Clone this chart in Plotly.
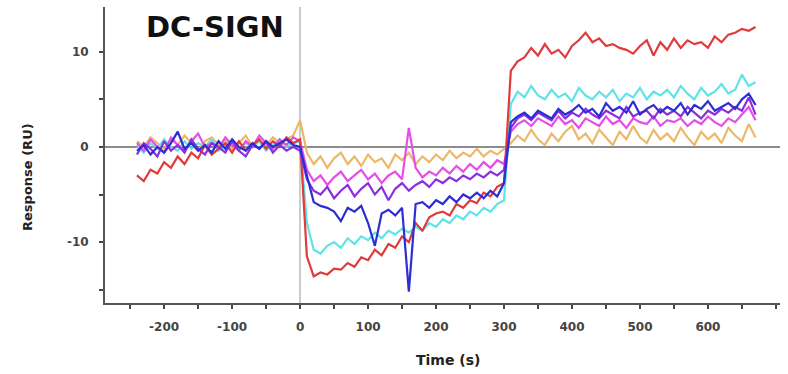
import plotly.graph_objects as go

# time axis (s), sampled every 10 s
time_s = list(range(-240, 680, 10))

red = [-3.0,-3.6,-2.4,-2.8,-1.6,-2.2,-1.0,-1.8,-0.6,-1.2,0.2,-0.8,-0.2,0.4,-0.6,0.6,-0.4,0.2,0.8,-0.2,0.6,0.0,1.0,0.4,
       0.8,
       -11.5,-13.6,-13.2,-13.4,-12.8,-12.9,-12.2,-12.6,-11.6,-11.9,-10.8,-11.4,-10.2,-10.6,-9.4,-10.0,-8.0,-8.8,-7.4,-7.0,-6.8,-7.2,-6.0,-6.4,-5.6,-5.9,-4.8,-5.2,-4.2,-3.8,
       8.0,9.0,9.4,10.4,9.6,10.8,9.8,10.2,9.4,10.6,11.2,12.0,11.0,11.4,10.6,10.8,10.4,10.2,9.8,10.6,11.2,9.6,11.0,10.2,11.4,10.4,11.2,10.8,11.0,10.4,11.6,11.0,11.8,12.0,12.4,12.2,12.6]

cyan = [0.2,-0.6,0.4,-0.2,0.8,0.0,-0.4,0.6,-0.2,0.4,0.0,0.8,-0.4,0.2,0.6,-0.2,0.4,0.0,0.6,-0.4,0.2,0.8,0.0,0.4,
        0.6,
        -8.0,-10.8,-11.2,-10.4,-10.0,-10.6,-9.6,-10.2,-9.4,-9.8,-9.0,-9.6,-8.8,-9.2,-8.6,-9.0,-8.4,-8.8,-8.0,-8.4,-7.6,-8.0,-7.2,-7.6,-6.8,-7.2,-6.4,-6.8,-6.0,-5.6,
        4.5,5.8,5.2,6.4,5.4,5.0,6.0,5.2,5.6,4.8,6.2,5.4,5.0,5.8,5.2,6.0,4.8,5.6,5.2,6.2,5.0,5.8,5.4,6.0,5.2,6.4,5.6,5.0,6.2,5.4,5.8,6.6,5.6,6.0,7.6,6.4,6.8]

blue = [-0.4,0.2,-0.8,0.0,-0.6,0.4,1.6,-0.2,0.4,-0.4,0.2,-0.6,0.6,-0.2,0.8,0.0,-0.4,0.4,-0.2,0.6,0.0,0.4,0.8,0.2,
        0.0,
        -3.0,-5.8,-6.2,-6.4,-6.8,-7.8,-6.4,-6.8,-6.2,-8.0,-10.4,-7.0,-6.6,-7.2,-6.4,-15.2,-6.0,-5.8,-6.4,-5.6,-6.0,-5.2,-5.8,-5.0,-5.4,-4.8,-5.4,-4.6,-5.2,-3.8,
        2.6,3.2,3.6,3.0,3.8,3.4,3.0,4.0,3.4,3.8,4.4,3.6,4.0,3.2,4.6,3.8,4.2,3.6,4.8,3.4,4.0,4.4,3.6,4.2,3.8,4.6,3.4,4.4,4.0,4.8,3.8,4.2,4.6,4.0,5.0,5.6,4.4]

purple = [-0.8,0.4,-0.2,-1.0,0.6,-0.4,0.2,-0.6,0.8,-0.2,-0.8,0.4,0.0,-0.6,0.6,-0.4,-1.0,0.2,-0.2,0.6,-0.6,0.2,-0.4,0.0,
          -0.4,
          -3.4,-4.6,-5.0,-4.2,-5.4,-4.6,-4.0,-5.2,-4.4,-3.8,-5.0,-4.2,-5.6,-4.4,-3.8,-4.6,-4.0,-3.6,-4.2,-3.4,-3.8,-3.2,-3.6,-3.0,-3.4,-2.8,-3.2,-2.6,-3.0,-2.4,
          2.0,3.0,3.4,2.8,3.6,3.2,2.8,3.8,3.0,3.6,3.2,4.0,3.4,3.0,3.8,3.4,3.0,4.2,3.2,3.6,3.8,3.0,4.0,3.4,3.8,3.2,4.2,3.6,3.0,3.8,3.4,4.0,3.6,4.2,3.8,5.2,3.4]

magenta = [0.4,-0.4,0.8,0.0,-0.6,1.0,0.2,-0.4,0.6,1.4,0.0,0.4,-0.2,1.0,0.2,-0.4,0.6,0.0,1.2,0.4,-0.2,0.8,0.2,1.0,
           0.6,
           -2.4,-3.6,-3.0,-4.0,-3.2,-2.6,-3.6,-3.0,-2.4,-3.4,-2.8,-3.8,-3.0,-2.6,-3.4,2.0,-2.2,-3.2,-2.6,-3.0,-2.2,-2.8,-2.0,-2.6,-1.8,-2.4,-1.6,-2.2,-1.4,-1.8,
           1.6,2.4,2.8,2.2,3.0,2.6,2.2,3.2,2.4,2.8,2.0,3.0,2.6,2.2,3.2,2.4,2.8,2.0,3.0,2.6,2.4,3.2,2.2,2.8,2.6,3.0,2.2,2.8,2.4,3.2,2.6,2.2,3.0,2.6,3.4,4.2,2.8]

orange = [0.6,0.0,1.0,0.4,-0.2,0.8,0.2,1.2,0.4,-0.4,0.6,1.0,0.2,0.8,-0.2,0.4,1.2,0.0,0.6,0.2,1.0,0.4,0.8,1.2,
          2.8,
          -0.6,-1.8,-1.0,-2.2,-1.2,-0.6,-1.8,-1.0,-2.0,-0.8,-1.6,-1.2,-2.2,-0.8,-1.4,-0.6,-1.8,-1.0,-1.6,-0.8,-1.4,-0.4,-1.2,-0.6,-1.0,-0.2,-1.0,-0.4,-0.8,-0.2,
          0.4,1.2,0.6,1.8,0.8,0.2,1.4,0.6,1.6,2.2,0.8,1.4,0.4,1.8,1.0,0.2,1.6,0.8,2.2,1.0,0.4,1.8,0.8,1.4,0.6,2.0,1.0,0.2,1.6,0.8,1.4,0.4,2.0,1.2,0.6,2.4,1.0]

x_tick_vals = [-200, -100, 0, 100, 200, 300, 400, 500, 600]
x_tick_text = ["-200", "-100", "0", "100", "200", "300", "400", "500", "600"]
y_tick_vals = [-10, 0, 10]
y_tick_text = ["-10", "0", "10"]

series = [
    ("orange", orange, "#ebb86a"),
    ("cyan", cyan, "#5fe3e6"),
    ("magenta", magenta, "#e44ee6"),
    ("red", red, "#e03a3a"),
    ("purple", purple, "#8a2ee0"),
    ("blue", blue, "#2d2dd4"),
]

fig = go.Figure()
for name, vals, col in series:
    fig.add_trace(go.Scatter(x=time_s, y=vals, mode="lines", name=name,
                             line=dict(color=col, width=2.2)))

tickfont = dict(family="DejaVu Sans", size=12, color="#444444", weight="bold")

fig.update_layout(
    width=788, height=374,
    margin=dict(l=105, r=8, t=7, b=71),
    paper_bgcolor="white", plot_bgcolor="white",
    showlegend=False,
    xaxis=dict(range=[-287, 706], tickvals=x_tick_vals, ticktext=x_tick_text,
               ticks="outside", ticklen=4, tickwidth=2, tickcolor="#444444",
               minor=dict(dtick=50, tick0=0, ticks="outside", ticklen=4, tickwidth=2, tickcolor="#444444"),
               showline=True, linecolor="#555555", linewidth=2, showgrid=False,
               zeroline=True, zerolinecolor="#cccccc", zerolinewidth=2,
               tickfont=tickfont, ticklabelstandoff=8),
    yaxis=dict(range=[-16.4, 14.7], tickvals=y_tick_vals, ticktext=y_tick_text,
               ticks="outside", ticklen=4, tickwidth=2, tickcolor="#444444",
               minor=dict(dtick=5, tick0=0, ticks="outside", ticklen=4, tickwidth=2, tickcolor="#444444"),
               showline=True, linecolor="#555555", linewidth=2, showgrid=False,
               zeroline=True, zerolinecolor="#8c8c8c", zerolinewidth=1.5,
               tickfont=tickfont, ticklabelstandoff=8),
    annotations=[
        dict(text="DC-SIGN", xref="paper", yref="paper", x=0.163, y=0.932,
             showarrow=False, xanchor="center", yanchor="middle",
             font=dict(family="DejaVu Sans", size=29, color="#111111", weight="bold")),
        dict(text="Time (s)", xref="paper", yref="paper", x=0.508, y=-0.193,
             showarrow=False, xanchor="center", yanchor="middle",
             font=dict(family="DejaVu Sans", size=14, color="#222222", weight="bold")),
        dict(text="Response (RU)", xref="paper", yref="paper", x=-0.114, y=0.426,
             showarrow=False, xanchor="center", yanchor="middle", textangle=-90,
             font=dict(family="DejaVu Sans", size=13, color="#222222", weight="bold")),
    ],
)

fig.write_html("out.html")
